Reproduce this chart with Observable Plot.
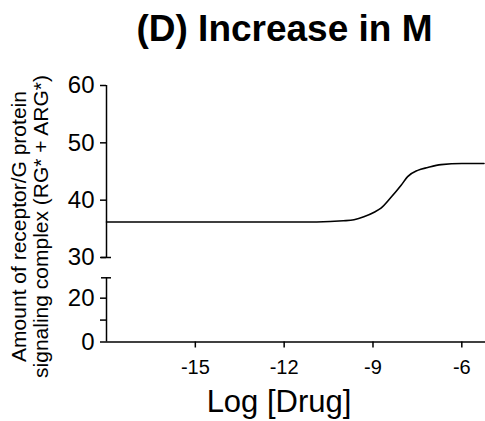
<!DOCTYPE html>
<html>
<head>
<meta charset="utf-8">
<script src="https://cdn.jsdelivr.net/npm/d3@7"></script>
<script src="https://cdn.jsdelivr.net/npm/@observablehq/plot@0.6"></script>
<style>
  html, body { margin: 0; padding: 0; background: #fff; }
  #chart { position: relative; width: 485px; height: 421px; }
  #chart svg { position: absolute; left: 0; top: 0; }
</style>
</head>
<body>
<div id="chart"></div>
<script>
// Data
const logDrug  = [-18, -14, -10.9, -10.0, -9.64, -9.31, -8.96, -8.73, -8.39, -8.05, -7.83, -7.49, -7.15, -6.7, -6.0, -5.25];
const response = [36.2, 36.2, 36.2, 36.4, 36.6, 37.1, 37.9, 38.6, 40.5, 42.6, 44.1, 45.2, 45.7, 46.2, 46.4, 46.4];

const xTicks = [-15, -12, -9, -6];
const yTicksUpper = [30, 40, 50, 60];
const yTicksLower = [0, 10, 20];
const yTickLabelsLower = ["0", "", "20"];
const xDomain = [-18, -5.2];
// broken y axis: lower segment 0–29.3, upper segment 30–60
const yDomainUpper = [30, 60];
const yDomainLower = [0, 29.3];

const titleText = ["(D) Increase in M"];
const xLabel = ["Log [Drug]"];
const yLabelLines = ["Amount of receptor/G protein", "signaling complex (RG* + ARG*)"];

const data = logDrug.map((x, i) => ({x, y: response[i]}));

const W = 485, H = 421;
const mL = 106, mR = 0;
const capHalf = 5 / ((W - mL - mR) / (xDomain[1] - xDomain[0]));
const font = "'Liberation Sans', Arial, Helvetica, sans-serif";
const SW = 1.5;

// Upper panel (30–60) with the curve, title and labels
const upper = Plot.plot({
  width: W, height: H,
  marginLeft: mL, marginRight: mR, marginTop: 85, marginBottom: H - 257,
  style: {fontFamily: font, color: "#000", background: "transparent"},
  x: {domain: xDomain, axis: null},
  y: {domain: yDomainUpper, axis: null},
  marks: [
    Plot.ruleX([xDomain[0]], {y1: yDomainUpper[0], y2: yDomainUpper[1], stroke: "#000", strokeWidth: SW}),
    Plot.ruleY([yDomainUpper[0]], {x1: xDomain[0] - capHalf, x2: xDomain[0] + capHalf, stroke: "#000", strokeWidth: SW}),
    Plot.axisY({ticks: yTicksUpper, tickSize: 6, tickPadding: 6, fontSize: 24, label: null, strokeWidth: SW}),
    Plot.line(data, {x: "x", y: "y", curve: "monotone-x", stroke: "#000", strokeWidth: 1.6}),
    Plot.text(titleText, {frameAnchor: "top", dx: -11.5, dy: -45, lineAnchor: "bottom", fontSize: 37, fontWeight: "bold", fill: "#000"}),
    Plot.text(xLabel, {frameAnchor: "bottom", dx: -17, dy: 154, lineAnchor: "bottom", fontSize: 31, fill: "#000"}),
    Plot.text([yLabelLines[0]], {frameAnchor: "left", textAnchor: "middle", rotate: -90, dx: -87.7, dy: 55, lineAnchor: "middle", fontSize: 21, fill: "#000"}),
    Plot.text([yLabelLines[1]], {frameAnchor: "left", textAnchor: "middle", rotate: -90, dx: -65.2, dy: 55, lineAnchor: "middle", fontSize: 21, fill: "#000"})
  ]
});

// Lower panel (0–29.3) with the x axis
const lower = Plot.plot({
  width: W, height: H,
  marginLeft: mL, marginRight: mR, marginTop: 277.3, marginBottom: 79.5,
  style: {fontFamily: font, color: "#000", background: "transparent"},
  x: {domain: xDomain, axis: null},
  y: {domain: yDomainLower, axis: null},
  marks: [
    Plot.ruleX([xDomain[0]], {y1: yDomainLower[0], y2: yDomainLower[1], stroke: "#000", strokeWidth: SW}),
    Plot.ruleY([yDomainLower[1]], {x1: xDomain[0] - capHalf, x2: xDomain[0] + capHalf, stroke: "#000", strokeWidth: SW}),
    Plot.ruleY([0], {stroke: "#000", strokeWidth: SW}),
    Plot.axisY({ticks: yTicksLower, tickFormat: d => yTickLabelsLower[yTicksLower.indexOf(d)], tickSize: 6, tickPadding: 6, fontSize: 24, label: null, strokeWidth: SW}),
    Plot.axisX({ticks: xTicks, tickFormat: d => String(d), tickSize: 6, tickPadding: 12, fontSize: 20, label: null, strokeWidth: SW})
  ]
});

const el = document.getElementById("chart");
el.appendChild(upper);
el.appendChild(lower);
</script>
</body>
</html>
